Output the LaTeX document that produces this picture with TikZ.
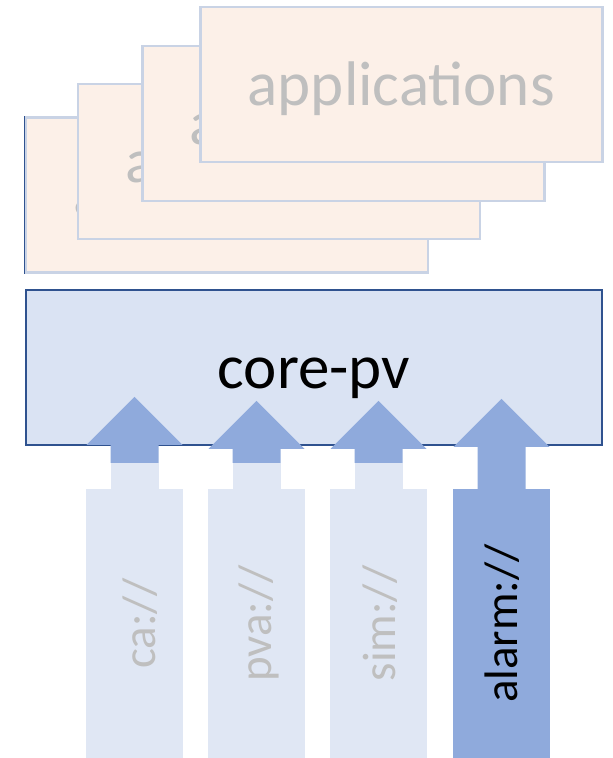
\documentclass[tikz,border=0pt]{standalone}
\usepackage{fontspec}
\setmainfont{Carlito}
\definecolor{appfill}{RGB}{252,240,232}
\definecolor{appline}{RGB}{201,211,229}
\definecolor{corefill}{RGB}{218,227,243}
\definecolor{coreline}{RGB}{47,82,143}
\definecolor{arrowfill}{RGB}{143,170,220}
\definecolor{barfill}{RGB}{224,231,244}
\definecolor{softgray}{RGB}{191,191,191}
\newcommand{\bigtext}{\fontsize{63}{70}\selectfont}
\newcommand{\bartext}{\fontsize{47}{52}\selectfont}

\begin{document}
\begin{tikzpicture}[x=1pt, y=-1pt,
  appbox/.style={rectangle, draw=appline, line width=2.5pt, fill=appfill,
              minimum width=402pt, minimum height=155pt, inner sep=0pt,
              text=softgray, font=\bigtext, text height=44pt, text depth=3pt},
  corebox/.style={rectangle, draw=coreline, line width=2pt, fill=corefill,
              minimum width=576pt, minimum height=155pt, inner sep=0pt,
              font=\bigtext, text height=44pt, text depth=3pt},
  srcbar/.style={rectangle, fill=barfill, minimum width=97pt,
              minimum height=269pt, inner sep=0pt},
  srclabel/.style={rotate=90, font=\bartext, text=softgray, inner sep=0pt}
]
\useasboundingbox (0,0) rectangle (613,758);

% stacked application windows, back to front
\node[appbox] (app1) at (226.75,195) {applications};
\draw[coreline, line width=1.5pt] (app1.north west) -- (app1.south west);
\node[appbox] (app2) at (278.75,161.5) {applications};
\node[appbox] (app3) at (343.25,123.5) {applications};
\node[appbox] (app4) at (401.25,84.5) {applications};

\node[corebox] (core) at (314,367.5) {core-pv};

% data sources
\node[srcbar] (ca) at (134.5,623.5) {};
\node[srcbar] (pva) at (256.5,623.5) {};
\node[srcbar] (sim) at (378.5,623.5) {};
\node[srcbar, fill=arrowfill] (alarm) at (501.5,623.5) {};

\fill[barfill] ([shift={(-24,0)}]ca.north) rectangle ([shift={(24,-26)}]ca.north);
\fill[barfill] ([shift={(-24,0)}]pva.north) rectangle ([shift={(24,-26)}]pva.north);
\fill[barfill] ([shift={(-24,0)}]sim.north) rectangle ([shift={(24,-26)}]sim.north);

\fill[arrowfill] ([shift={(-24,-26)}]ca.north) -- ++(0,-18) -- ++(-24,0)
  -- ++(48,-48) -- ++(48,48) -- ++(-24,0) -- ++(0,18) -- cycle;
\fill[arrowfill] ([shift={(-24,-26)}]pva.north) -- ++(0,-14) -- ++(-24,0)
  -- ++(48,-48) -- ++(48,48) -- ++(-24,0) -- ++(0,14) -- cycle;
\fill[arrowfill] ([shift={(-24,-26)}]sim.north) -- ++(0,-14) -- ++(-24,0)
  -- ++(48,-48) -- ++(48,48) -- ++(-24,0) -- ++(0,14) -- cycle;
\fill[arrowfill] ([shift={(-24,1)}]alarm.north) -- ++(0,-43) -- ++(-24,0)
  -- ++(48,-48) -- ++(48,48) -- ++(-24,0) -- ++(0,43) -- cycle;

\node[srclabel] (calabel) at ([xshift=6pt]ca.center) {ca://};
\node[srclabel] (pvalabel) at ([xshift=2pt]pva.center) {pva://};
\node[srclabel] (simlabel) at ([xshift=2pt]sim.center) {sim://};
\node[srclabel, text=black] (alarmlabel) at ([xshift=1pt]alarm.center) {alarm://};
\end{tikzpicture}
\end{document}
